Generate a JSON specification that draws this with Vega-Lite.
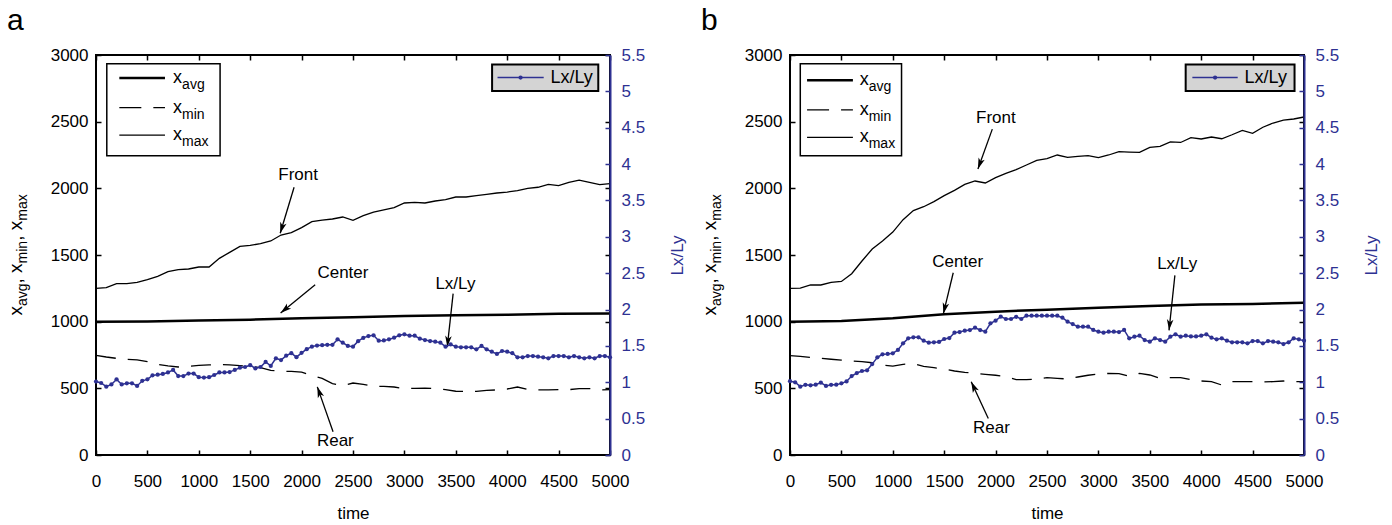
{
"$schema": "https://vega.github.io/schema/vega-lite/v6.json",
"padding": {"left": 5, "top": 5, "right": 0, "bottom": 0},
"spacing": 12,
"config": {"font": "Liberation Sans", "view": {"stroke": "black", "strokeWidth": 2},
 "axis": {"grid": false, "labelFontSize": 17, "labelColor": "black", "titleFontSize": 17, "titleFontWeight": "normal", "labelFont": "Liberation Sans", "titleFont": "Liberation Sans", "titleColor": "black"},
 "text": {"font": "Liberation Sans"},
 "title": {"font": "Liberation Sans", "fontSize": 30, "fontWeight": "normal", "anchor": "start", "frame": "bounds", "baseline": "alphabetic", "offset": 10, "color": "black"}},
"datasets": {
"a_xm": [{"t":0,"mn":748,"mx":1250},{"t":100,"mn":735,"mx":1255},{"t":200,"mn":725,"mx":1285},{"t":300,"mn":718,"mx":1285},{"t":400,"mn":714,"mx":1295},{"t":500,"mn":700,"mx":1315},{"t":600,"mn":680,"mx":1340},{"t":700,"mn":668,"mx":1375},{"t":800,"mn":660,"mx":1390},{"t":900,"mn":665,"mx":1395},{"t":1000,"mn":672,"mx":1410},{"t":1100,"mn":676,"mx":1410},{"t":1200,"mn":678,"mx":1475},{"t":1300,"mn":676,"mx":1520},{"t":1400,"mn":670,"mx":1565},{"t":1500,"mn":665,"mx":1572},{"t":1600,"mn":655,"mx":1585},{"t":1700,"mn":635,"mx":1605},{"t":1800,"mn":628,"mx":1650},{"t":1900,"mn":627,"mx":1668},{"t":2000,"mn":622,"mx":1705},{"t":2100,"mn":595,"mx":1750},{"t":2200,"mn":575,"mx":1762},{"t":2300,"mn":535,"mx":1770},{"t":2400,"mn":520,"mx":1785},{"t":2500,"mn":540,"mx":1760},{"t":2600,"mn":530,"mx":1795},{"t":2700,"mn":515,"mx":1822},{"t":2800,"mn":515,"mx":1838},{"t":2900,"mn":510,"mx":1855},{"t":3000,"mn":498,"mx":1890},{"t":3100,"mn":500,"mx":1895},{"t":3200,"mn":502,"mx":1890},{"t":3300,"mn":498,"mx":1905},{"t":3400,"mn":490,"mx":1915},{"t":3500,"mn":478,"mx":1935},{"t":3600,"mn":476,"mx":1935},{"t":3700,"mn":477,"mx":1945},{"t":3800,"mn":485,"mx":1955},{"t":3900,"mn":488,"mx":1965},{"t":4000,"mn":495,"mx":1972},{"t":4100,"mn":510,"mx":1982},{"t":4200,"mn":492,"mx":2000},{"t":4300,"mn":488,"mx":2008},{"t":4400,"mn":488,"mx":2030},{"t":4500,"mn":490,"mx":2020},{"t":4600,"mn":490,"mx":2045},{"t":4700,"mn":498,"mx":2062},{"t":4800,"mn":498,"mx":2045},{"t":4900,"mn":488,"mx":2028},{"t":5000,"mn":490,"mx":2035}],
"a_avg": [{"t":0,"v":1000},{"t":500,"v":1002},{"t":1000,"v":1008},{"t":1500,"v":1015},{"t":2000,"v":1025},{"t":2500,"v":1033},{"t":3000,"v":1043},{"t":3500,"v":1048},{"t":4000,"v":1052},{"t":4500,"v":1060},{"t":5000,"v":1062}],
"a_lr": [{"t":0,"r":1.01},{"t":50,"r":0.99},{"t":100,"r":0.94},{"t":150,"r":0.97},{"t":200,"r":1.04},{"t":250,"r":0.97},{"t":300,"r":0.985},{"t":350,"r":0.985},{"t":400,"r":0.95},{"t":450,"r":1.02},{"t":500,"r":1.04},{"t":550,"r":1.095},{"t":600,"r":1.105},{"t":650,"r":1.115},{"t":700,"r":1.135},{"t":750,"r":1.17},{"t":800,"r":1.085},{"t":850,"r":1.085},{"t":900,"r":1.12},{"t":950,"r":1.12},{"t":1000,"r":1.07},{"t":1050,"r":1.065},{"t":1100,"r":1.07},{"t":1150,"r":1.1},{"t":1200,"r":1.135},{"t":1250,"r":1.135},{"t":1300,"r":1.14},{"t":1350,"r":1.17},{"t":1400,"r":1.2},{"t":1450,"r":1.21},{"t":1500,"r":1.235},{"t":1550,"r":1.19},{"t":1600,"r":1.21},{"t":1650,"r":1.28},{"t":1700,"r":1.225},{"t":1750,"r":1.33},{"t":1800,"r":1.305},{"t":1850,"r":1.365},{"t":1900,"r":1.4},{"t":1950,"r":1.345},{"t":2000,"r":1.405},{"t":2050,"r":1.455},{"t":2100,"r":1.49},{"t":2150,"r":1.505},{"t":2200,"r":1.51},{"t":2250,"r":1.515},{"t":2300,"r":1.515},{"t":2350,"r":1.59},{"t":2400,"r":1.545},{"t":2450,"r":1.5},{"t":2500,"r":1.49},{"t":2550,"r":1.565},{"t":2600,"r":1.61},{"t":2650,"r":1.636},{"t":2700,"r":1.646},{"t":2750,"r":1.572},{"t":2800,"r":1.575},{"t":2850,"r":1.59},{"t":2900,"r":1.613},{"t":2950,"r":1.646},{"t":3000,"r":1.66},{"t":3050,"r":1.64},{"t":3100,"r":1.64},{"t":3150,"r":1.6},{"t":3200,"r":1.58},{"t":3250,"r":1.567},{"t":3300,"r":1.558},{"t":3350,"r":1.545},{"t":3400,"r":1.49},{"t":3450,"r":1.52},{"t":3500,"r":1.49},{"t":3550,"r":1.48},{"t":3600,"r":1.48},{"t":3650,"r":1.48},{"t":3700,"r":1.453},{"t":3750,"r":1.5},{"t":3800,"r":1.453},{"t":3850,"r":1.42},{"t":3900,"r":1.39},{"t":3950,"r":1.43},{"t":4000,"r":1.42},{"t":4050,"r":1.4},{"t":4100,"r":1.343},{"t":4150,"r":1.343},{"t":4200,"r":1.36},{"t":4250,"r":1.36},{"t":4300,"r":1.352},{"t":4350,"r":1.343},{"t":4400,"r":1.33},{"t":4450,"r":1.36},{"t":4500,"r":1.36},{"t":4550,"r":1.36},{"t":4600,"r":1.343},{"t":4650,"r":1.36},{"t":4700,"r":1.343},{"t":4750,"r":1.33},{"t":4800,"r":1.343},{"t":4850,"r":1.33},{"t":4900,"r":1.36},{"t":4950,"r":1.36},{"t":5000,"r":1.343}],
"a_box": [{"t1":105,"t2":1207,"v1":2245,"v2":2935}],
"a_legl": [{"s":"avg","t1":227,"t2":671,"tx":750,"v":2828},{"s":"min","t1":227,"t2":671,"tx":750,"v":2606},{"s":"max","t1":227,"t2":671,"tx":750,"v":2399}],
"a_ann": [{"label":"Front","t":1966,"v":2100},{"label":"Center","t":2402,"v":1364},{"label":"Lx/Ly","t":3496,"v":1284},{"label":"Rear","t":2328,"v":105}],
"a_arr": [{"t1":1927,"v1":2008,"t2":1792,"v2":1663},{"t1":2132,"v1":1277,"t2":1796,"v2":1065},{"t1":3474,"v1":1210,"t2":3417,"v2":811},{"t1":2306,"v1":175,"t2":2153,"v2":511}],
"a_rbox": [{"t1":3853,"t2":4886,"r1":5.006,"r2":5.37}],
"a_rleg": [{"t1":3906,"t2":4355,"tm":4130,"tx":4420,"r":5.19,"label":"Lx/Ly"}],
"b_xm": [{"t":0,"mn":745,"mx":1250},{"t":100,"mn":740,"mx":1252},{"t":200,"mn":732,"mx":1275},{"t":300,"mn":725,"mx":1275},{"t":400,"mn":718,"mx":1295},{"t":500,"mn":712,"mx":1302},{"t":600,"mn":705,"mx":1360},{"t":700,"mn":700,"mx":1455},{"t":800,"mn":692,"mx":1545},{"t":900,"mn":675,"mx":1605},{"t":1000,"mn":667,"mx":1672},{"t":1100,"mn":680,"mx":1765},{"t":1200,"mn":684,"mx":1833},{"t":1300,"mn":665,"mx":1862},{"t":1400,"mn":655,"mx":1900},{"t":1500,"mn":645,"mx":1945},{"t":1600,"mn":630,"mx":1985},{"t":1700,"mn":620,"mx":2030},{"t":1800,"mn":612,"mx":2055},{"t":1900,"mn":605,"mx":2040},{"t":2000,"mn":598,"mx":2080},{"t":2100,"mn":588,"mx":2112},{"t":2200,"mn":565,"mx":2140},{"t":2300,"mn":565,"mx":2175},{"t":2400,"mn":570,"mx":2210},{"t":2500,"mn":580,"mx":2222},{"t":2600,"mn":575,"mx":2250},{"t":2700,"mn":570,"mx":2232},{"t":2800,"mn":585,"mx":2240},{"t":2900,"mn":598,"mx":2245},{"t":3000,"mn":608,"mx":2230},{"t":3100,"mn":612,"mx":2250},{"t":3200,"mn":610,"mx":2275},{"t":3300,"mn":590,"mx":2272},{"t":3400,"mn":612,"mx":2270},{"t":3500,"mn":600,"mx":2307},{"t":3600,"mn":575,"mx":2315},{"t":3700,"mn":580,"mx":2348},{"t":3800,"mn":580,"mx":2344},{"t":3900,"mn":565,"mx":2380},{"t":4000,"mn":555,"mx":2370},{"t":4100,"mn":550,"mx":2385},{"t":4200,"mn":525,"mx":2372},{"t":4300,"mn":550,"mx":2402},{"t":4400,"mn":550,"mx":2435},{"t":4500,"mn":550,"mx":2412},{"t":4600,"mn":548,"mx":2458},{"t":4700,"mn":550,"mx":2490},{"t":4800,"mn":555,"mx":2512},{"t":4900,"mn":550,"mx":2520},{"t":5000,"mn":550,"mx":2535}],
"b_avg": [{"t":0,"v":1000},{"t":500,"v":1005},{"t":1000,"v":1025},{"t":1500,"v":1055},{"t":2000,"v":1075},{"t":2500,"v":1090},{"t":3000,"v":1105},{"t":3500,"v":1118},{"t":4000,"v":1128},{"t":4500,"v":1132},{"t":5000,"v":1142}],
"b_lr": [{"t":0,"r":1.015},{"t":50,"r":1.0},{"t":100,"r":0.94},{"t":150,"r":0.965},{"t":200,"r":0.958},{"t":250,"r":0.967},{"t":300,"r":0.995},{"t":350,"r":0.95},{"t":400,"r":0.965},{"t":450,"r":0.967},{"t":500,"r":0.985},{"t":550,"r":1.012},{"t":600,"r":1.086},{"t":650,"r":1.127},{"t":700,"r":1.155},{"t":750,"r":1.164},{"t":800,"r":1.25},{"t":850,"r":1.343},{"t":900,"r":1.384},{"t":950,"r":1.39},{"t":1000,"r":1.398},{"t":1050,"r":1.444},{"t":1100,"r":1.535},{"t":1150,"r":1.604},{"t":1200,"r":1.618},{"t":1250,"r":1.618},{"t":1300,"r":1.572},{"t":1350,"r":1.544},{"t":1400,"r":1.55},{"t":1450,"r":1.554},{"t":1500,"r":1.595},{"t":1550,"r":1.608},{"t":1600,"r":1.682},{"t":1650,"r":1.69},{"t":1700,"r":1.71},{"t":1750,"r":1.718},{"t":1800,"r":1.75},{"t":1850,"r":1.718},{"t":1900,"r":1.696},{"t":1950,"r":1.81},{"t":2000,"r":1.847},{"t":2050,"r":1.902},{"t":2100,"r":1.87},{"t":2150,"r":1.87},{"t":2200,"r":1.9},{"t":2250,"r":1.87},{"t":2300,"r":1.915},{"t":2350,"r":1.915},{"t":2400,"r":1.915},{"t":2450,"r":1.915},{"t":2500,"r":1.915},{"t":2550,"r":1.915},{"t":2600,"r":1.915},{"t":2650,"r":1.888},{"t":2700,"r":1.833},{"t":2750,"r":1.8},{"t":2800,"r":1.764},{"t":2850,"r":1.764},{"t":2900,"r":1.764},{"t":2950,"r":1.719},{"t":3000,"r":1.696},{"t":3050,"r":1.681},{"t":3100,"r":1.696},{"t":3150,"r":1.696},{"t":3200,"r":1.69},{"t":3250,"r":1.719},{"t":3300,"r":1.604},{"t":3350,"r":1.627},{"t":3400,"r":1.64},{"t":3450,"r":1.581},{"t":3500,"r":1.558},{"t":3550,"r":1.604},{"t":3600,"r":1.581},{"t":3650,"r":1.558},{"t":3700,"r":1.627},{"t":3750,"r":1.66},{"t":3800,"r":1.627},{"t":3850,"r":1.64},{"t":3900,"r":1.63},{"t":3950,"r":1.63},{"t":4000,"r":1.64},{"t":4050,"r":1.66},{"t":4100,"r":1.613},{"t":4150,"r":1.59},{"t":4200,"r":1.604},{"t":4250,"r":1.572},{"t":4300,"r":1.55},{"t":4350,"r":1.55},{"t":4400,"r":1.55},{"t":4450,"r":1.535},{"t":4500,"r":1.567},{"t":4550,"r":1.567},{"t":4600,"r":1.535},{"t":4650,"r":1.567},{"t":4700,"r":1.558},{"t":4750,"r":1.55},{"t":4800,"r":1.526},{"t":4850,"r":1.55},{"t":4900,"r":1.604},{"t":4950,"r":1.59},{"t":5000,"r":1.572}],
"b_box": [{"t1":100,"t2":1085,"v1":2245,"v2":2935}],
"b_legl": [{"s":"avg","t1":166,"t2":612,"tx":678,"v":2811},{"s":"min","t1":166,"t2":612,"tx":678,"v":2589},{"s":"max","t1":166,"t2":612,"tx":678,"v":2382}],
"b_ann": [{"label":"Front","t":2003,"v":2526},{"label":"Center","t":1631,"v":1447},{"label":"Lx/Ly","t":3766,"v":1429},{"label":"Rear","t":1960,"v":205}],
"b_arr": [{"t1":1968,"v1":2444,"t2":1828,"v2":2145},{"t1":1588,"v1":1367,"t2":1492,"v2":1060},{"t1":3744,"v1":1347,"t2":3687,"v2":935},{"t1":1929,"v1":274,"t2":1763,"v2":549}],
"b_rbox": [{"t1":3849,"t2":4908,"r1":5.006,"r2":5.37}],
"b_rleg": [{"t1":3914,"t2":4355,"tm":4135,"tx":4422,"r":5.19,"label":"Lx/Ly"}],
"ttl": [{"t":-720,"v":1500}]
},
"hconcat": [
{
"width": 514, "height": 400,
"title": {"text": "a"},
"resolve": {"scale": {"y": "independent"}},
"layer": [
  {"data": {"name": "a_xm"}, "mark": {"type": "line", "color": "black", "strokeWidth": 1.3},
   "encoding": {"x": {"field": "t", "type": "quantitative", "scale": {"domain": [0, 5000], "nice": false}, "axis": {"orient": "bottom", "values": [0,500,1000,1500,2000,2500,3000,3500,4000,4500,5000], "format": "d", "tickSize": -5, "tickColor": "black", "tickWidth": 1.5, "domain": false, "labelPadding": 23, "labelFlush": false, "labelOverlap": false, "title": "time", "titlePadding": 16}},
    "y": {"field": "mx", "type": "quantitative", "scale": {"domain": [0, 3000], "nice": false}, "axis": {"orient": "left", "values": [0,500,1000,1500,2000,2500,3000], "format": "d", "tickSize": -5, "tickColor": "black", "tickWidth": 1.5, "domain": false, "labelPadding": 13, "title": null}}}},
  {"data": {"name": "a_avg"}, "mark": {"type": "line", "color": "black", "strokeWidth": 2.5},
   "encoding": {"x": {"field": "t", "type": "quantitative", "scale": {"domain": [0, 5000], "nice": false}, "axis": {"orient": "top", "values": [0,500,1000,1500,2000,2500,3000,3500,4000,4500,5000], "tickSize": -5, "tickColor": "black", "tickWidth": 1.5, "labels": false, "domain": false, "title": null}},
    "y": {"field": "v", "type": "quantitative", "scale": {"domain": [0, 3000], "nice": false}, "axis": null}}},
  {"data": {"name": "a_xm"}, "mark": {"type": "line", "color": "black", "strokeWidth": 1.3, "strokeDash": [20, 12]},
   "encoding": {"x": {"field": "t", "type": "quantitative", "scale": {"domain": [0, 5000], "nice": false}, "axis": null},
    "y": {"field": "mn", "type": "quantitative", "scale": {"domain": [0, 3000], "nice": false}, "axis": {"orient": "right", "values": [0,500,1000,1500,2000,2500,3000], "tickSize": -5, "tickColor": "black", "tickWidth": 1.5, "labels": false, "domain": false, "title": null}}}},
  {"data": {"name": "a_box"}, "mark": {"type": "rect", "fill": "white", "stroke": "black", "strokeWidth": 1.5},
   "encoding": {"x": {"field": "t1", "type": "quantitative", "scale": {"domain": [0, 5000], "nice": false}, "axis": null}, "x2": {"field": "t2"},
    "y": {"field": "v1", "type": "quantitative", "scale": {"domain": [0, 3000], "nice": false}, "axis": null}, "y2": {"field": "v2"}}},
  {"data": {"name": "a_legl"}, "transform": [{"filter": "datum.s === 'avg'"}], "mark": {"type": "rule", "color": "black", "strokeWidth": 2.5},
   "encoding": {"x": {"field": "t1", "type": "quantitative", "scale": {"domain": [0, 5000], "nice": false}, "axis": null}, "x2": {"field": "t2"},
    "y": {"field": "v", "type": "quantitative", "scale": {"domain": [0, 3000], "nice": false}, "axis": null}}},
  {"data": {"name": "a_legl"}, "transform": [{"filter": "datum.s === 'min'"}], "mark": {"type": "rule", "color": "black", "strokeWidth": 1.3, "strokeDash": [22, 12]},
   "encoding": {"x": {"field": "t1", "type": "quantitative", "scale": {"domain": [0, 5000], "nice": false}, "axis": null}, "x2": {"field": "t2"},
    "y": {"field": "v", "type": "quantitative", "scale": {"domain": [0, 3000], "nice": false}, "axis": null}}},
  {"data": {"name": "a_legl"}, "transform": [{"filter": "datum.s === 'max'"}], "mark": {"type": "rule", "color": "black", "strokeWidth": 1.3},
   "encoding": {"x": {"field": "t1", "type": "quantitative", "scale": {"domain": [0, 5000], "nice": false}, "axis": null}, "x2": {"field": "t2"},
    "y": {"field": "v", "type": "quantitative", "scale": {"domain": [0, 3000], "nice": false}, "axis": null}}},
  {"data": {"name": "a_legl"}, "mark": {"type": "text", "text": "x", "fontSize": 18, "align": "left", "baseline": "alphabetic", "dy": 5, "color": "black"},
   "encoding": {"x": {"field": "tx", "type": "quantitative", "scale": {"domain": [0, 5000], "nice": false}, "axis": null},
    "y": {"field": "v", "type": "quantitative", "scale": {"domain": [0, 3000], "nice": false}, "axis": null}}},
  {"data": {"name": "a_legl"}, "mark": {"type": "text", "fontSize": 14, "align": "left", "baseline": "alphabetic", "dx": 9, "dy": 11, "color": "black"},
   "encoding": {"x": {"field": "tx", "type": "quantitative", "scale": {"domain": [0, 5000], "nice": false}, "axis": null},
    "y": {"field": "v", "type": "quantitative", "scale": {"domain": [0, 3000], "nice": false}, "axis": null}, "text": {"field": "s"}}},
  {"data": {"name": "a_ann"}, "mark": {"type": "text", "fontSize": 17, "align": "center", "baseline": "middle", "color": "black"},
   "encoding": {"x": {"field": "t", "type": "quantitative", "scale": {"domain": [0, 5000], "nice": false}, "axis": null},
    "y": {"field": "v", "type": "quantitative", "scale": {"domain": [0, 3000], "nice": false}, "axis": null}, "text": {"field": "label"}}},
  {"data": {"name": "a_arr"}, "mark": {"type": "rule", "color": "black", "strokeWidth": 1.3},
   "encoding": {"x": {"field": "t1", "type": "quantitative", "scale": {"domain": [0, 5000], "nice": false}, "axis": null}, "x2": {"field": "t2"},
    "y": {"field": "v1", "type": "quantitative", "scale": {"domain": [0, 3000], "nice": false}, "axis": null}, "y2": {"field": "v2"}}},
  {"data": {"name": "a_arr"}, "transform": [{"calculate": "atan2((datum.t2 - datum.t1) * 514 / 5000, (datum.v2 - datum.v1) * 400 / 3000) * 180 / PI", "as": "ang"}],
   "mark": {"type": "point", "shape": "M0,0 L-0.6,2 L0,1.5 L0.6,2 Z", "filled": true, "color": "black", "opacity": 1, "size": 120},
   "encoding": {"x": {"field": "t2", "type": "quantitative", "scale": {"domain": [0, 5000], "nice": false}, "axis": null},
    "y": {"field": "v2", "type": "quantitative", "scale": {"domain": [0, 3000], "nice": false}, "axis": null}, "angle": {"field": "ang", "type": "quantitative", "scale": null}}},
  {"data": {"name": "ttl"}, "mark": {"type": "text", "text": "x", "fontSize": 19, "angle": 270, "align": "left", "baseline": "alphabetic", "dx": -60.6, "color": "black"},
   "encoding": {"x": {"field": "t", "type": "quantitative", "scale": {"domain": [0, 5000], "nice": false}, "axis": null}, "y": {"field": "v", "type": "quantitative", "scale": {"domain": [0, 3000], "nice": false}, "axis": null}}},
  {"data": {"name": "ttl"}, "mark": {"type": "text", "text": "avg", "fontSize": 14, "angle": 270, "align": "left", "baseline": "alphabetic", "dx": -51.1, "dy": 5, "color": "black"},
   "encoding": {"x": {"field": "t", "type": "quantitative", "scale": {"domain": [0, 5000], "nice": false}, "axis": null}, "y": {"field": "v", "type": "quantitative", "scale": {"domain": [0, 3000], "nice": false}, "axis": null}}},
  {"data": {"name": "ttl"}, "mark": {"type": "text", "text": ", x", "fontSize": 19, "angle": 270, "align": "left", "baseline": "alphabetic", "dx": -28.5, "color": "black"},
   "encoding": {"x": {"field": "t", "type": "quantitative", "scale": {"domain": [0, 5000], "nice": false}, "axis": null}, "y": {"field": "v", "type": "quantitative", "scale": {"domain": [0, 3000], "nice": false}, "axis": null}}},
  {"data": {"name": "ttl"}, "mark": {"type": "text", "text": "min", "fontSize": 14, "angle": 270, "align": "left", "baseline": "alphabetic", "dx": -8.4, "dy": 5, "color": "black"},
   "encoding": {"x": {"field": "t", "type": "quantitative", "scale": {"domain": [0, 5000], "nice": false}, "axis": null}, "y": {"field": "v", "type": "quantitative", "scale": {"domain": [0, 3000], "nice": false}, "axis": null}}},
  {"data": {"name": "ttl"}, "mark": {"type": "text", "text": ", x", "fontSize": 19, "angle": 270, "align": "left", "baseline": "alphabetic", "dx": 14.2, "color": "black"},
   "encoding": {"x": {"field": "t", "type": "quantitative", "scale": {"domain": [0, 5000], "nice": false}, "axis": null}, "y": {"field": "v", "type": "quantitative", "scale": {"domain": [0, 3000], "nice": false}, "axis": null}}},
  {"data": {"name": "ttl"}, "mark": {"type": "text", "text": "max", "fontSize": 14, "angle": 270, "align": "left", "baseline": "alphabetic", "dx": 34.3, "dy": 5, "color": "black"},
   "encoding": {"x": {"field": "t", "type": "quantitative", "scale": {"domain": [0, 5000], "nice": false}, "axis": null}, "y": {"field": "v", "type": "quantitative", "scale": {"domain": [0, 3000], "nice": false}, "axis": null}}},
  {"data": {"name": "a_lr"}, "mark": {"type": "line", "color": "#2e3192", "strokeWidth": 1.5, "point": {"filled": true, "size": 18, "color": "#2e3192"}},
   "encoding": {"x": {"field": "t", "type": "quantitative", "scale": {"domain": [0, 5000], "nice": false}, "axis": null},
    "y": {"field": "r", "type": "quantitative", "scale": {"domain": [0, 5.5], "nice": false}, "axis": {"orient": "right", "values": [0,0.5,1,1.5,2,2.5,3,3.5,4,4.5,5,5.5], "format": "~g", "tickSize": -5, "tickColor": "#2e3192", "tickWidth": 1.5, "domain": true, "domainColor": "#2e3192", "domainWidth": 2, "labelColor": "#2e3192", "labelPadding": 16, "title": "Lx/Ly", "titleColor": "#2e3192", "titleAngle": 270, "titlePadding": 42, "zindex": 1}}}},
  {"data": {"name": "a_rbox"}, "mark": {"type": "rect", "fill": "#d4d4d4", "stroke": "black", "strokeWidth": 2},
   "encoding": {"x": {"field": "t1", "type": "quantitative", "scale": {"domain": [0, 5000], "nice": false}, "axis": null}, "x2": {"field": "t2"},
    "y": {"field": "r1", "type": "quantitative", "scale": {"domain": [0, 5.5], "nice": false}, "axis": null}, "y2": {"field": "r2"}}},
  {"data": {"name": "a_rleg"}, "mark": {"type": "rule", "color": "#2e3192", "strokeWidth": 1.5},
   "encoding": {"x": {"field": "t1", "type": "quantitative", "scale": {"domain": [0, 5000], "nice": false}, "axis": null}, "x2": {"field": "t2"},
    "y": {"field": "r", "type": "quantitative", "scale": {"domain": [0, 5.5], "nice": false}, "axis": null}}},
  {"data": {"name": "a_rleg"}, "mark": {"type": "point", "filled": true, "size": 18, "color": "#2e3192", "opacity": 1},
   "encoding": {"x": {"field": "tm", "type": "quantitative", "scale": {"domain": [0, 5000], "nice": false}, "axis": null},
    "y": {"field": "r", "type": "quantitative", "scale": {"domain": [0, 5.5], "nice": false}, "axis": null}}},
  {"data": {"name": "a_rleg"}, "mark": {"type": "text", "fontSize": 18, "align": "left", "baseline": "middle", "color": "black"},
   "encoding": {"x": {"field": "tx", "type": "quantitative", "scale": {"domain": [0, 5000], "nice": false}, "axis": null},
    "y": {"field": "r", "type": "quantitative", "scale": {"domain": [0, 5.5], "nice": false}, "axis": null}, "text": {"field": "label"}}}
]
},
{
"width": 514, "height": 400,
"title": {"text": "b"},
"resolve": {"scale": {"y": "independent"}},
"layer": [
  {"data": {"name": "b_xm"}, "mark": {"type": "line", "color": "black", "strokeWidth": 1.3},
   "encoding": {"x": {"field": "t", "type": "quantitative", "scale": {"domain": [0, 5000], "nice": false}, "axis": {"orient": "bottom", "values": [0,500,1000,1500,2000,2500,3000,3500,4000,4500,5000], "format": "d", "tickSize": -5, "tickColor": "black", "tickWidth": 1.5, "domain": false, "labelPadding": 23, "labelFlush": false, "labelOverlap": false, "title": "time", "titlePadding": 16}},
    "y": {"field": "mx", "type": "quantitative", "scale": {"domain": [0, 3000], "nice": false}, "axis": {"orient": "left", "values": [0,500,1000,1500,2000,2500,3000], "format": "d", "tickSize": -5, "tickColor": "black", "tickWidth": 1.5, "domain": false, "labelPadding": 13, "title": null}}}},
  {"data": {"name": "b_avg"}, "mark": {"type": "line", "color": "black", "strokeWidth": 2.5},
   "encoding": {"x": {"field": "t", "type": "quantitative", "scale": {"domain": [0, 5000], "nice": false}, "axis": {"orient": "top", "values": [0,500,1000,1500,2000,2500,3000,3500,4000,4500,5000], "tickSize": -5, "tickColor": "black", "tickWidth": 1.5, "labels": false, "domain": false, "title": null}},
    "y": {"field": "v", "type": "quantitative", "scale": {"domain": [0, 3000], "nice": false}, "axis": null}}},
  {"data": {"name": "b_xm"}, "mark": {"type": "line", "color": "black", "strokeWidth": 1.3, "strokeDash": [20, 12]},
   "encoding": {"x": {"field": "t", "type": "quantitative", "scale": {"domain": [0, 5000], "nice": false}, "axis": null},
    "y": {"field": "mn", "type": "quantitative", "scale": {"domain": [0, 3000], "nice": false}, "axis": {"orient": "right", "values": [0,500,1000,1500,2000,2500,3000], "tickSize": -5, "tickColor": "black", "tickWidth": 1.5, "labels": false, "domain": false, "title": null}}}},
  {"data": {"name": "b_box"}, "mark": {"type": "rect", "fill": "white", "stroke": "black", "strokeWidth": 1.5},
   "encoding": {"x": {"field": "t1", "type": "quantitative", "scale": {"domain": [0, 5000], "nice": false}, "axis": null}, "x2": {"field": "t2"},
    "y": {"field": "v1", "type": "quantitative", "scale": {"domain": [0, 3000], "nice": false}, "axis": null}, "y2": {"field": "v2"}}},
  {"data": {"name": "b_legl"}, "transform": [{"filter": "datum.s === 'avg'"}], "mark": {"type": "rule", "color": "black", "strokeWidth": 2.5},
   "encoding": {"x": {"field": "t1", "type": "quantitative", "scale": {"domain": [0, 5000], "nice": false}, "axis": null}, "x2": {"field": "t2"},
    "y": {"field": "v", "type": "quantitative", "scale": {"domain": [0, 3000], "nice": false}, "axis": null}}},
  {"data": {"name": "b_legl"}, "transform": [{"filter": "datum.s === 'min'"}], "mark": {"type": "rule", "color": "black", "strokeWidth": 1.3, "strokeDash": [22, 12]},
   "encoding": {"x": {"field": "t1", "type": "quantitative", "scale": {"domain": [0, 5000], "nice": false}, "axis": null}, "x2": {"field": "t2"},
    "y": {"field": "v", "type": "quantitative", "scale": {"domain": [0, 3000], "nice": false}, "axis": null}}},
  {"data": {"name": "b_legl"}, "transform": [{"filter": "datum.s === 'max'"}], "mark": {"type": "rule", "color": "black", "strokeWidth": 1.3},
   "encoding": {"x": {"field": "t1", "type": "quantitative", "scale": {"domain": [0, 5000], "nice": false}, "axis": null}, "x2": {"field": "t2"},
    "y": {"field": "v", "type": "quantitative", "scale": {"domain": [0, 3000], "nice": false}, "axis": null}}},
  {"data": {"name": "b_legl"}, "mark": {"type": "text", "text": "x", "fontSize": 18, "align": "left", "baseline": "alphabetic", "dy": 5, "color": "black"},
   "encoding": {"x": {"field": "tx", "type": "quantitative", "scale": {"domain": [0, 5000], "nice": false}, "axis": null},
    "y": {"field": "v", "type": "quantitative", "scale": {"domain": [0, 3000], "nice": false}, "axis": null}}},
  {"data": {"name": "b_legl"}, "mark": {"type": "text", "fontSize": 14, "align": "left", "baseline": "alphabetic", "dx": 9, "dy": 11, "color": "black"},
   "encoding": {"x": {"field": "tx", "type": "quantitative", "scale": {"domain": [0, 5000], "nice": false}, "axis": null},
    "y": {"field": "v", "type": "quantitative", "scale": {"domain": [0, 3000], "nice": false}, "axis": null}, "text": {"field": "s"}}},
  {"data": {"name": "b_ann"}, "mark": {"type": "text", "fontSize": 17, "align": "center", "baseline": "middle", "color": "black"},
   "encoding": {"x": {"field": "t", "type": "quantitative", "scale": {"domain": [0, 5000], "nice": false}, "axis": null},
    "y": {"field": "v", "type": "quantitative", "scale": {"domain": [0, 3000], "nice": false}, "axis": null}, "text": {"field": "label"}}},
  {"data": {"name": "b_arr"}, "mark": {"type": "rule", "color": "black", "strokeWidth": 1.3},
   "encoding": {"x": {"field": "t1", "type": "quantitative", "scale": {"domain": [0, 5000], "nice": false}, "axis": null}, "x2": {"field": "t2"},
    "y": {"field": "v1", "type": "quantitative", "scale": {"domain": [0, 3000], "nice": false}, "axis": null}, "y2": {"field": "v2"}}},
  {"data": {"name": "b_arr"}, "transform": [{"calculate": "atan2((datum.t2 - datum.t1) * 514 / 5000, (datum.v2 - datum.v1) * 400 / 3000) * 180 / PI", "as": "ang"}],
   "mark": {"type": "point", "shape": "M0,0 L-0.6,2 L0,1.5 L0.6,2 Z", "filled": true, "color": "black", "opacity": 1, "size": 120},
   "encoding": {"x": {"field": "t2", "type": "quantitative", "scale": {"domain": [0, 5000], "nice": false}, "axis": null},
    "y": {"field": "v2", "type": "quantitative", "scale": {"domain": [0, 3000], "nice": false}, "axis": null}, "angle": {"field": "ang", "type": "quantitative", "scale": null}}},
  {"data": {"name": "ttl"}, "mark": {"type": "text", "text": "x", "fontSize": 19, "angle": 270, "align": "left", "baseline": "alphabetic", "dx": -60.6, "color": "black"},
   "encoding": {"x": {"field": "t", "type": "quantitative", "scale": {"domain": [0, 5000], "nice": false}, "axis": null}, "y": {"field": "v", "type": "quantitative", "scale": {"domain": [0, 3000], "nice": false}, "axis": null}}},
  {"data": {"name": "ttl"}, "mark": {"type": "text", "text": "avg", "fontSize": 14, "angle": 270, "align": "left", "baseline": "alphabetic", "dx": -51.1, "dy": 5, "color": "black"},
   "encoding": {"x": {"field": "t", "type": "quantitative", "scale": {"domain": [0, 5000], "nice": false}, "axis": null}, "y": {"field": "v", "type": "quantitative", "scale": {"domain": [0, 3000], "nice": false}, "axis": null}}},
  {"data": {"name": "ttl"}, "mark": {"type": "text", "text": ", x", "fontSize": 19, "angle": 270, "align": "left", "baseline": "alphabetic", "dx": -28.5, "color": "black"},
   "encoding": {"x": {"field": "t", "type": "quantitative", "scale": {"domain": [0, 5000], "nice": false}, "axis": null}, "y": {"field": "v", "type": "quantitative", "scale": {"domain": [0, 3000], "nice": false}, "axis": null}}},
  {"data": {"name": "ttl"}, "mark": {"type": "text", "text": "min", "fontSize": 14, "angle": 270, "align": "left", "baseline": "alphabetic", "dx": -8.4, "dy": 5, "color": "black"},
   "encoding": {"x": {"field": "t", "type": "quantitative", "scale": {"domain": [0, 5000], "nice": false}, "axis": null}, "y": {"field": "v", "type": "quantitative", "scale": {"domain": [0, 3000], "nice": false}, "axis": null}}},
  {"data": {"name": "ttl"}, "mark": {"type": "text", "text": ", x", "fontSize": 19, "angle": 270, "align": "left", "baseline": "alphabetic", "dx": 14.2, "color": "black"},
   "encoding": {"x": {"field": "t", "type": "quantitative", "scale": {"domain": [0, 5000], "nice": false}, "axis": null}, "y": {"field": "v", "type": "quantitative", "scale": {"domain": [0, 3000], "nice": false}, "axis": null}}},
  {"data": {"name": "ttl"}, "mark": {"type": "text", "text": "max", "fontSize": 14, "angle": 270, "align": "left", "baseline": "alphabetic", "dx": 34.3, "dy": 5, "color": "black"},
   "encoding": {"x": {"field": "t", "type": "quantitative", "scale": {"domain": [0, 5000], "nice": false}, "axis": null}, "y": {"field": "v", "type": "quantitative", "scale": {"domain": [0, 3000], "nice": false}, "axis": null}}},
  {"data": {"name": "b_lr"}, "mark": {"type": "line", "color": "#2e3192", "strokeWidth": 1.5, "point": {"filled": true, "size": 18, "color": "#2e3192"}},
   "encoding": {"x": {"field": "t", "type": "quantitative", "scale": {"domain": [0, 5000], "nice": false}, "axis": null},
    "y": {"field": "r", "type": "quantitative", "scale": {"domain": [0, 5.5], "nice": false}, "axis": {"orient": "right", "values": [0,0.5,1,1.5,2,2.5,3,3.5,4,4.5,5,5.5], "format": "~g", "tickSize": -5, "tickColor": "#2e3192", "tickWidth": 1.5, "domain": true, "domainColor": "#2e3192", "domainWidth": 2, "labelColor": "#2e3192", "labelPadding": 16, "title": "Lx/Ly", "titleColor": "#2e3192", "titleAngle": 270, "titlePadding": 42, "zindex": 1}}}},
  {"data": {"name": "b_rbox"}, "mark": {"type": "rect", "fill": "#d4d4d4", "stroke": "black", "strokeWidth": 2},
   "encoding": {"x": {"field": "t1", "type": "quantitative", "scale": {"domain": [0, 5000], "nice": false}, "axis": null}, "x2": {"field": "t2"},
    "y": {"field": "r1", "type": "quantitative", "scale": {"domain": [0, 5.5], "nice": false}, "axis": null}, "y2": {"field": "r2"}}},
  {"data": {"name": "b_rleg"}, "mark": {"type": "rule", "color": "#2e3192", "strokeWidth": 1.5},
   "encoding": {"x": {"field": "t1", "type": "quantitative", "scale": {"domain": [0, 5000], "nice": false}, "axis": null}, "x2": {"field": "t2"},
    "y": {"field": "r", "type": "quantitative", "scale": {"domain": [0, 5.5], "nice": false}, "axis": null}}},
  {"data": {"name": "b_rleg"}, "mark": {"type": "point", "filled": true, "size": 18, "color": "#2e3192", "opacity": 1},
   "encoding": {"x": {"field": "tm", "type": "quantitative", "scale": {"domain": [0, 5000], "nice": false}, "axis": null},
    "y": {"field": "r", "type": "quantitative", "scale": {"domain": [0, 5.5], "nice": false}, "axis": null}}},
  {"data": {"name": "b_rleg"}, "mark": {"type": "text", "fontSize": 18, "align": "left", "baseline": "middle", "color": "black"},
   "encoding": {"x": {"field": "tx", "type": "quantitative", "scale": {"domain": [0, 5000], "nice": false}, "axis": null},
    "y": {"field": "r", "type": "quantitative", "scale": {"domain": [0, 5.5], "nice": false}, "axis": null}, "text": {"field": "label"}}}
]
}
]
}
